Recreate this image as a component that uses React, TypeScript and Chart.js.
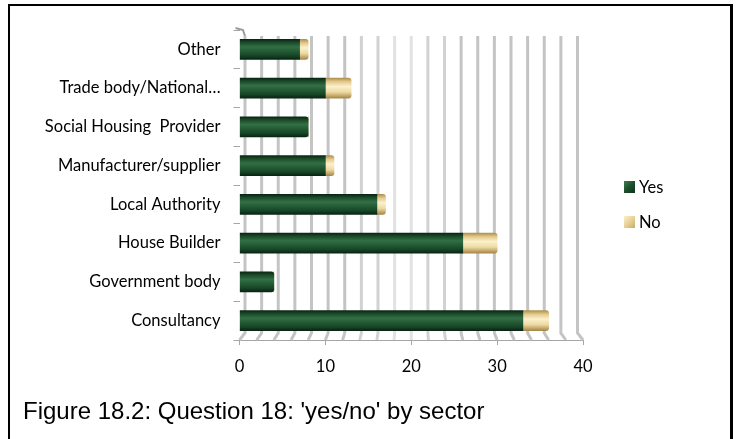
import React, { useEffect, useRef } from "react";
import { Chart, registerables } from "chart.js";

Chart.register(...registerables);

// Respondent sectors, listed bottom-to-top
const sectors = [
  "Consultancy",
  "Government body",
  "House Builder",
  "Local Authority",
  "Manufacturer/supplier",
  "Social Housing  Provider",
  "Trade body/National…",
  "Other",
];
const yesCounts = [33, 4, 26, 16, 10, 8, 10, 7];
const noCounts = [3, 0, 4, 1, 1, 0, 3, 1];
const seriesNames = ["Yes", "No"];
const axisMin = 0;
const axisMax = 40;
const axisStep = 10;
const wallStep = 2;

const LABEL_FONT = "Lato, 'Open Sans', sans-serif";
const BAR_THICKNESS = 20;

const greenStops: [number, string][] = [
  [0, "#0a2514"],
  [0.14, "#184828"],
  [0.38, "#336f45"],
  [0.55, "#275f38"],
  [0.82, "#164526"],
  [1, "#092312"],
];
const tanStops: [number, string][] = [
  [0, "#b0924f"],
  [0.18, "#e3c98c"],
  [0.42, "#fbf1cc"],
  [0.7, "#eed9a2"],
  [1, "#a5884a"],
];

// Cylinder-style shading across the thickness of each bar
function cylinderFill(stops: [number, string][]) {
  return (c: any) => {
    const chart = c.chart;
    const yScale = chart.scales && chart.scales.y;
    if (!yScale || c.type !== "data" || c.dataIndex == null) return stops[2][1];
    const yc = yScale.getPixelForValue(c.dataIndex);
    if (!Number.isFinite(yc)) return stops[2][1];
    const g = chart.ctx.createLinearGradient(0, yc - BAR_THICKNESS / 2, 0, yc + BAR_THICKNESS / 2);
    stops.forEach(([o, col]) => g.addColorStop(o, col));
    return g;
  };
}

// Back-wall posts of the 3-D floor, drawn behind the bars
const wallPlugin = {
  id: "wallPosts",
  beforeDatasetsDraw(chart: any) {
    const { ctx, chartArea, scales } = chart;
    const x = scales.x;
    const x0 = x.getPixelForValue(axisMin);
    const x1 = x.getPixelForValue(axisMax);
    const mid = (x0 + x1) / 2;
    const depth = 0.968;
    const top = chartArea.top + 6;
    const knee = chartArea.bottom - 7;
    const base = chartArea.bottom;
    ctx.save();
    ctx.lineWidth = 3;
    for (let v = axisMin; v <= axisMax; v += wallStep) {
      const fx = x.getPixelForValue(v);
      const bx = mid + (fx - mid) * depth;
      const d = Math.abs(v - 19);
      ctx.strokeStyle = d <= 2 ? "#e2e2e2" : d <= 6 ? "#d2d2d2" : "#c4c4c4";
      ctx.beginPath();
      ctx.moveTo(bx, top);
      ctx.lineTo(bx, knee);
      ctx.lineTo(fx, base);
      ctx.stroke();
    }
    // top edge of the side wall
    const b0 = mid + (x0 - mid) * depth;
    ctx.strokeStyle = "#9c9c9c";
    ctx.lineWidth = 2;
    ctx.beginPath();
    ctx.moveTo(x0 - 4, top - 8);
    ctx.lineTo(b0 - 2, top - 6);
    ctx.lineTo(b0, top);
    ctx.stroke();
    ctx.restore();
  },
};

export default function App() {
  const canvasRef = useRef<HTMLCanvasElement | null>(null);

  useEffect(() => {
    const canvas = canvasRef.current;
    if (!canvas) return;
    const chart = new Chart(canvas, {
      type: "bar",
      data: {
        labels: sectors,
        datasets: [
          {
            label: seriesNames[0],
            data: yesCounts,
            backgroundColor: cylinderFill(greenStops),
            barThickness: BAR_THICKNESS,
            borderRadius: 3,
            borderSkipped: "start",
          },
          {
            label: seriesNames[1],
            data: noCounts,
            backgroundColor: cylinderFill(tanStops),
            barThickness: BAR_THICKNESS,
            borderRadius: 3,
            borderSkipped: "start",
          },
        ],
      },
      options: {
        animation: false,
        responsive: false,
        indexAxis: "y",
        layout: { padding: { top: 30, right: 154, left: 0, bottom: 0 } },
        plugins: {
          legend: { display: false },
          tooltip: { enabled: false },
          title: { display: false },
        },
        scales: {
          x: {
            stacked: true,
            min: axisMin,
            max: axisMax,
            ticks: {
              stepSize: axisStep,
              color: "#000",
              font: { family: LABEL_FONT, size: 16.5 },
              padding: 12,
            },
            grid: { drawOnChartArea: false, tickLength: 5, color: "#a6a6a6" },
            border: { color: "#a6a6a6", width: 1 },
            afterFit: (s: any) => {
              s.height = 50;
            },
          },
          y: {
            stacked: true,
            reverse: true,
            ticks: {
              color: "#000",
              font: { family: LABEL_FONT, size: 16.5 },
              padding: 13,
              autoSkip: false,
            },
            grid: { offset: true, drawOnChartArea: false, tickLength: 6, color: "#a6a6a6" },
            border: { display: false },
            afterFit: (s: any) => {
              s.width = 239.5;
            },
          },
        },
      },
      plugins: [wallPlugin],
    });
    return () => chart.destroy();
  }, []);

  const swatch = (bg: string): React.CSSProperties => ({
    position: "absolute",
    left: 0,
    top: 4,
    width: 11,
    height: 12,
    background: bg,
  });

  return (
    <div>
      <div
        style={{
          position: "fixed",
          left: 8,
          top: 4,
          width: 725,
          height: 435,
          boxSizing: "border-box",
          border: "2px solid #000",
          borderRight: "3px solid #000",
          borderBottom: "none",
        }}
      />
      <canvas
        ref={canvasRef}
        width={737}
        height={390}
        style={{ position: "fixed", left: 0, top: 0, width: 737, height: 390 }}
      />
      <div
        style={{
          position: "fixed",
          left: 624,
          top: 177,
          fontFamily: LABEL_FONT,
          fontSize: 16.5,
          color: "#000",
          lineHeight: "20px",
        }}
      >
        <div style={{ position: "relative", paddingLeft: 15, height: 35 }}>
          <span style={swatch("linear-gradient(135deg, #3f7f52 0%, #1c4f2d 50%, #0f341c 100%)")} />
          {seriesNames[0]}
        </div>
        <div style={{ position: "relative", paddingLeft: 15, height: 20 }}>
          <span style={swatch("linear-gradient(135deg, #fbf0c8 0%, #e6cd92 55%, #c9aa68 100%)")} />
          {seriesNames[1]}
        </div>
      </div>
      <div
        style={{
          position: "fixed",
          left: 23,
          top: 397,
          fontFamily: "'Liberation Sans', Arial, sans-serif",
          fontSize: 24,
          color: "#000",
          whiteSpace: "nowrap",
        }}
      >
        Figure 18.2: Question 18: 'yes/no' by sector
      </div>
    </div>
  );
}
